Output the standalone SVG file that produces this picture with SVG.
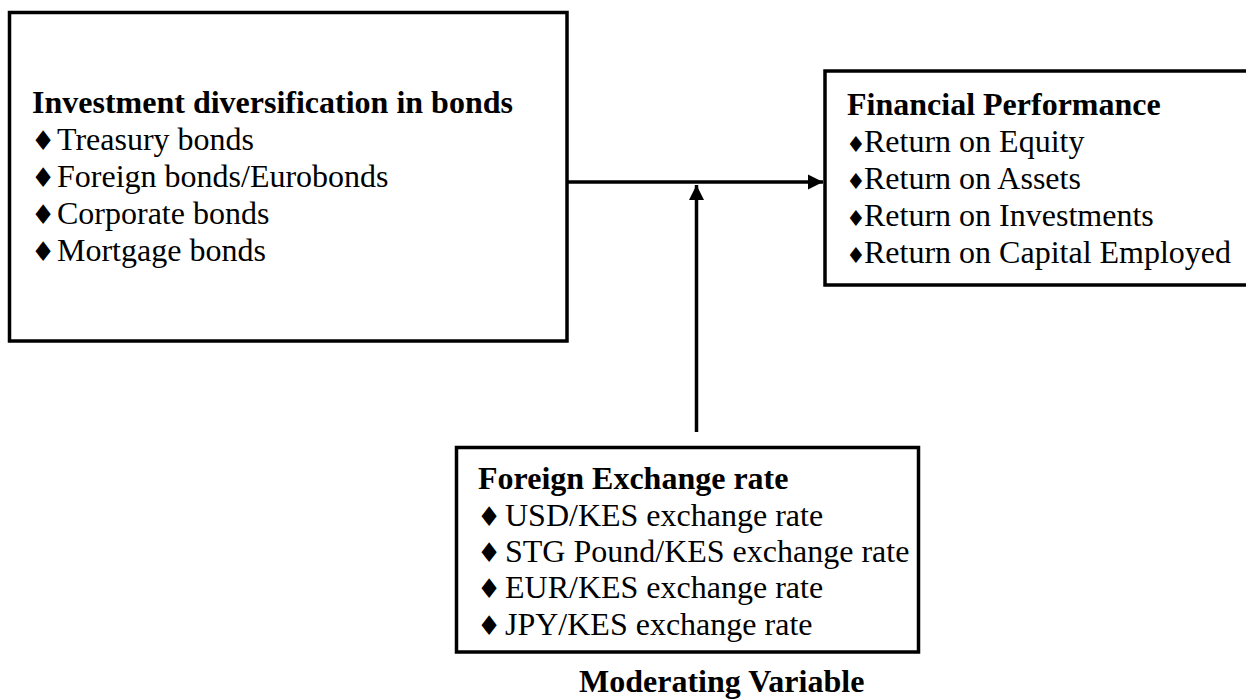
<svg xmlns="http://www.w3.org/2000/svg" width="1246" height="700" viewBox="0 0 1246 700">
<defs>
<style>
.box{fill:#fff;stroke:#000;stroke-width:3.5}
.t{font-family:"Liberation Serif","Times New Roman",serif;font-size:32px;fill:#000}
.b{font-weight:bold}
.bul{font-family:"DejaVu Sans","Liberation Serif",serif;font-size:27px}
.bs{font-family:"DejaVu Sans","Liberation Serif",serif;font-size:22px}
.conn{stroke:#000;stroke-width:3.5;fill:none}
</style>
<marker id="ah" markerUnits="userSpaceOnUse" markerWidth="16" markerHeight="16" viewBox="0 0 16 16" refX="15" refY="8" orient="auto">
<path d="M0,0.5 L15,8 L0,15.5 Z" fill="#000"/>
</marker>
</defs>
<rect width="1246" height="700" fill="#fff"/>
<g id="node-investment">
<rect class="box" x="9.5" y="12.5" width="557.5" height="328.5"/>
<text class="t b" x="32" y="113">Investment diversification in bonds</text>
<text class="t" y="150"><tspan class="bul" x="31">♦</tspan><tspan x="57">Treasury bonds</tspan></text>
<text class="t" y="187"><tspan class="bul" x="31">♦</tspan><tspan x="57">Foreign bonds/Eurobonds</tspan></text>
<text class="t" y="224"><tspan class="bul" x="31">♦</tspan><tspan x="57">Corporate bonds</tspan></text>
<text class="t" y="261"><tspan class="bul" x="31">♦</tspan><tspan x="57">Mortgage bonds</tspan></text>
</g>
<g id="node-performance">
<rect class="box" x="825" y="71" width="430" height="214"/>
<text class="t b" x="847" y="115">Financial Performance</text>
<text class="t" y="152"><tspan class="bs" x="846">♦</tspan><tspan x="864">Return on Equity</tspan></text>
<text class="t" y="189"><tspan class="bs" x="846">♦</tspan><tspan x="864">Return on Assets</tspan></text>
<text class="t" y="226"><tspan class="bs" x="846">♦</tspan><tspan x="864">Return on Investments</tspan></text>
<text class="t" y="263"><tspan class="bs" x="846">♦</tspan><tspan x="864">Return on Capital Employed</tspan></text>
</g>
<g id="node-exchange">
<rect class="box" x="456.5" y="447.5" width="462" height="204.5"/>
<text class="t b" x="478" y="489">Foreign Exchange rate</text>
<text class="t" y="526"><tspan class="bul" x="477">♦</tspan><tspan x="505">USD/KES exchange rate</tspan></text>
<text class="t" y="562"><tspan class="bul" x="477">♦</tspan><tspan x="505">STG Pound/KES exchange rate</tspan></text>
<text class="t" y="598"><tspan class="bul" x="477">♦</tspan><tspan x="505">EUR/KES exchange rate</tspan></text>
<text class="t" y="635"><tspan class="bul" x="477">♦</tspan><tspan x="505">JPY/KES exchange rate</tspan></text>
<text class="t b" x="579" y="692">Moderating Variable</text>
</g>
<g id="connectors">
<line class="conn" x1="567" y1="182" x2="823" y2="182" marker-end="url(#ah)"/>
<line class="conn" x1="696.5" y1="432" x2="696.5" y2="185" marker-end="url(#ah)"/>
</g>
</svg>
